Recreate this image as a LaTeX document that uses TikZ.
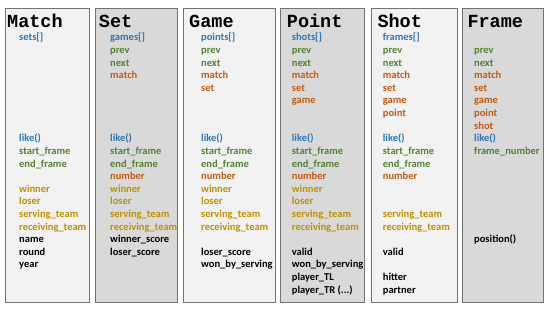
\documentclass[tikz,border=0pt]{standalone}
\usepackage{fontspec}
\setmainfont{Carlito}
\newfontfamily\titlefont{Liberation Mono}
\usetikzlibrary{positioning}
\definecolor{fblue}{HTML}{2E75B6}
\definecolor{fgreen}{HTML}{548235}
\definecolor{forange}{HTML}{C55A11}
\definecolor{fgold}{HTML}{BF9000}
\definecolor{lightc}{HTML}{F2F2F2}
\definecolor{darkc}{HTML}{D9D9D9}
\definecolor{edgec}{HTML}{737373}
\newcommand{\classbox}[6]{%
  \node[classrect, fill=#4, minimum width=#3pt] (#1) at (#2,8) {};
  \node[classtitle] (#1-title) at (#5,27) {#6};
}
\newcommand{\rowy}[1]{{40.8+12.62*#1}}
\newcommand{\moredots}{...}

\begin{document}
\begin{tikzpicture}[x=1pt, y=-1pt,
    classrect/.style={draw=edgec, line width=1pt, anchor=north west,
      minimum height=294pt, inner sep=0pt, outer sep=0pt},
    classtitle/.style={anchor=base west, inner sep=0pt,
      font=\titlefont\bfseries\fontsize{18.5}{20}\selectfont},
    field/.style={anchor=base west, inner sep=0pt,
      font=\bfseries\fontsize{10.5}{12}\selectfont}]
  \fill[white] (0,0) rectangle (550,309);
  \useasboundingbox (0,0) rectangle (550,309);
  \classbox{match}{5}{84}{lightc}{7}{Match}
  \classbox{set}{95}{82}{darkc}{98.7}{Set}
  \classbox{game}{183}{92}{lightc}{189}{Game}
  \classbox{point}{280}{84}{darkc}{286.7}{Point}
  \classbox{shot}{371}{86}{lightc}{377.3}{Shot}
  \classbox{frame}{462}{81}{darkc}{467.3}{Frame}
  % match
  \foreach \r/\c/\t in {0/fblue/sets[], 8/fblue/like(),
      9/fgreen/start\_frame, 10/fgreen/end\_frame,
      12/fgold/winner, 13/fgold/loser, 14/fgold/serving\_team,
      15/fgold/receiving\_team, 16/black/name, 17/black/round,
      18/black/year}
    \node[field, text=\c] (match-\r) at (19,\rowy{\r}) {\t};
  % set
  \foreach \r/\c/\t in {0/fblue/games[], 1/fgreen/prev, 2/fgreen/next,
      3/forange/match, 8/fblue/like(),
      9/fgreen/start\_frame, 10/fgreen/end\_frame, 11/forange/number,
      12/fgold/winner, 13/fgold/loser, 14/fgold/serving\_team,
      15/fgold/receiving\_team, 16/black/winner\_score,
      17/black/loser\_score}
    \node[field, text=\c] (set-\r) at (110,\rowy{\r}) {\t};
  % game
  \foreach \r/\c/\t in {0/fblue/points[], 1/fgreen/prev, 2/fgreen/next,
      3/forange/match, 4/forange/set, 8/fblue/like(),
      9/fgreen/start\_frame, 10/fgreen/end\_frame, 11/forange/number,
      12/fgold/winner, 13/fgold/loser, 14/fgold/serving\_team,
      15/fgold/receiving\_team, 17/black/loser\_score,
      18/black/won\_by\_serving}
    \node[field, text=\c] (game-\r) at (201,\rowy{\r}) {\t};
  % point
  \foreach \r/\c/\t in {0/fblue/shots[], 1/fgreen/prev, 2/fgreen/next,
      3/forange/match, 4/forange/set, 5/forange/game, 8/fblue/like(),
      9/fgreen/start\_frame, 10/fgreen/end\_frame, 11/forange/number,
      12/fgold/winner, 13/fgold/loser, 14/fgold/serving\_team,
      15/fgold/receiving\_team, 17/black/valid,
      18/black/won\_by\_serving, 19/black/player\_TL,
      20/black/{player\_TR (\moredots)}}
    \node[field, text=\c] (point-\r) at (291.7,\rowy{\r}) {\t};
  % shot
  \foreach \r/\c/\t in {0/fblue/frames[], 1/fgreen/prev, 2/fgreen/next,
      3/forange/match, 4/forange/set, 5/forange/game, 6/forange/point,
      8/fblue/like(), 9/fgreen/start\_frame, 10/fgreen/end\_frame,
      11/forange/number, 14/fgold/serving\_team,
      15/fgold/receiving\_team, 17/black/valid, 19/black/hitter,
      20/black/partner}
    \node[field, text=\c] (shot-\r) at (382.7,\rowy{\r}) {\t};
  % frame
  \foreach \r/\c/\t in {1/fgreen/prev, 2/fgreen/next,
      3/forange/match, 4/forange/set, 5/forange/game, 6/forange/point,
      7/forange/shot, 8/fblue/like(), 9/fgreen/frame\_number,
      16/black/position()}
    \node[field, text=\c] (frame-\r) at (474,\rowy{\r}) {\t};
\end{tikzpicture}
\end{document}
